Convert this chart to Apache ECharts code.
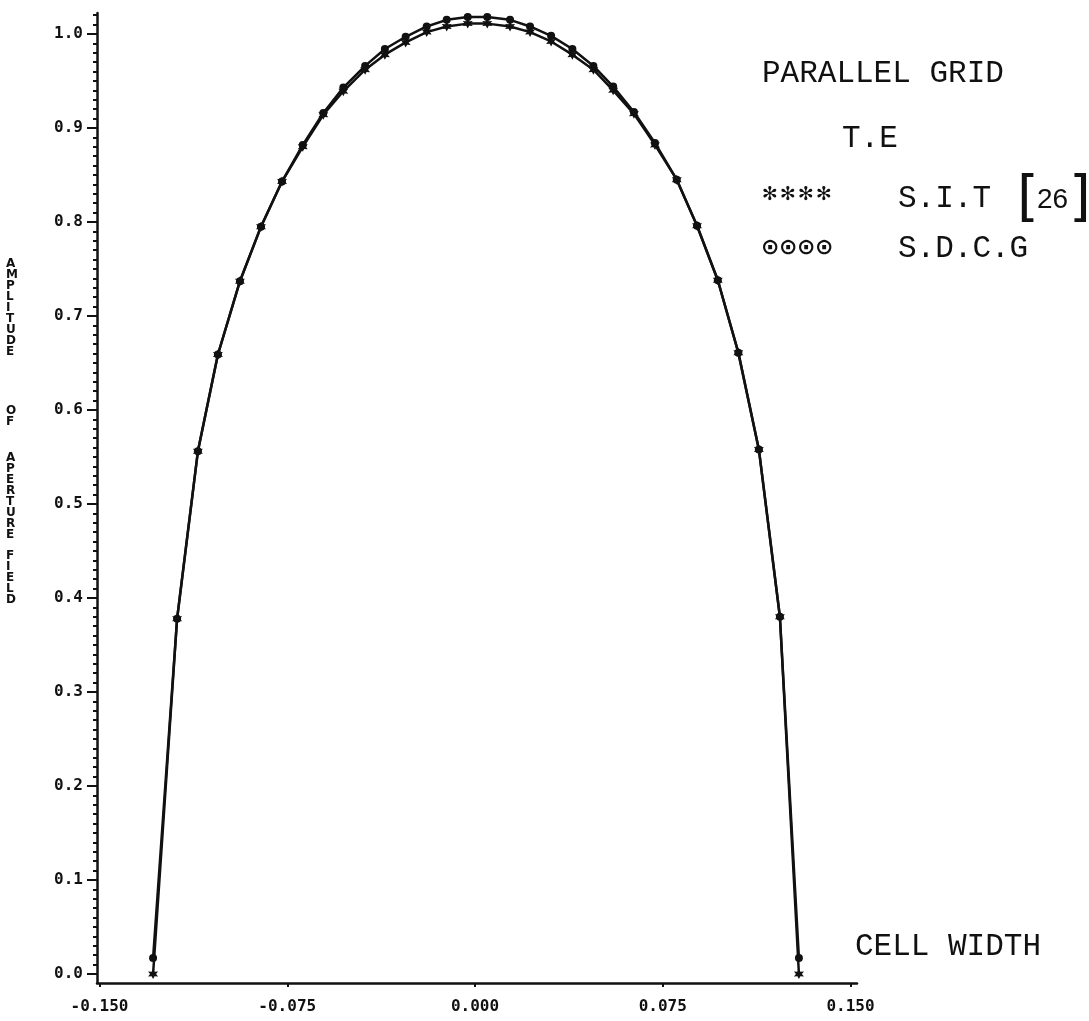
<!DOCTYPE html>
<html>
<head>
<meta charset="utf-8">
<script src="https://cdn.jsdelivr.net/npm/echarts@6/dist/echarts.min.js"></script>
<style>
  html, body { margin: 0; padding: 0; background: #fff; }
  #chart { width: 1089px; height: 1021px; }
</style>
</head>
<body>
<div id="chart"></div>
<script>
  // positions across the cell
  const cellX = [-0.1286, -0.1190, -0.1107, -0.1027, -0.0939, -0.0855, -0.0771, -0.0688,
    -0.0606, -0.0526, -0.0439, -0.0360, -0.0277, -0.0193, -0.0113, -0.0029,
    0.0049, 0.0140, 0.0220, 0.0304, 0.0389, 0.0473, 0.0552, 0.0635,
    0.0719, 0.0806, 0.0887, 0.0970, 0.1052, 0.1134, 0.1218, 0.1294];
  // S.I.T [26]  (****)
  const sitAmp = [0.000, 0.378, 0.556, 0.659, 0.737, 0.795, 0.843, 0.880,
    0.914, 0.939, 0.962, 0.978, 0.991, 1.002, 1.008, 1.011,
    1.011, 1.008, 1.002, 0.992, 0.978, 0.962, 0.940, 0.915,
    0.882, 0.845, 0.796, 0.738, 0.661, 0.558, 0.380, 0.000];
  // S.D.C.G  (oooo)
  const sdcgAmp = [0.017, 0.378, 0.556, 0.659, 0.737, 0.795, 0.843, 0.882,
    0.916, 0.943, 0.966, 0.984, 0.997, 1.008, 1.015, 1.018,
    1.018, 1.015, 1.008, 0.998, 0.984, 0.966, 0.944, 0.917,
    0.884, 0.845, 0.796, 0.738, 0.661, 0.558, 0.380, 0.017];

  const xTicks = [-0.15, -0.075, 0, 0.075, 0.15];
  const xTickLabels = ['-0.150', '-0.075', '0.000', '0.075', '0.150'];
  const yTicks = [0, 0.1, 0.2, 0.3, 0.4, 0.5, 0.6, 0.7, 0.8, 0.9, 1.0];
  const yTickLabels = ['0.0', '0.1', '0.2', '0.3', '0.4', '0.5', '0.6', '0.7', '0.8', '0.9', '1.0'];

  let yMinor = [];
  for (let i = 0; i <= 102; i++) yMinor.push(i / 100);

  const ink = '#111';
  const starPath = 'path://M0,-10 L2.6,-4.5 L8.7,-5 L5.2,0 L8.7,5 L2.6,4.5 L0,10 L-2.6,4.5 L-8.7,5 L-5.2,0 L-8.7,-5 L-2.6,-4.5 Z';
  const labelFont = { color: ink, fontFamily: 'DejaVu Sans Mono', fontWeight: 'bold', fontSize: 16 };
  const typeFont = '31px "Liberation Mono"';
  const titleFont = 'bold 12px "DejaVu Sans"';

  function vertical(word) { return word.split('').join('\n'); }

  let myChart = echarts.init(document.getElementById('chart'), null, { renderer: 'canvas' });

  let graphics = [
    { type: 'text', left: 762, top: 58, style: { text: 'PARALLEL GRID', font: typeFont, fill: ink } },
    { type: 'text', left: 842, top: 123, style: { text: 'T.E', font: typeFont, fill: ink } },
    { type: 'text', left: 898, top: 183, style: { text: 'S.I.T', font: typeFont, fill: ink } },
    { type: 'text', left: 1017, top: 172, style: { text: '[', font: '56px "DejaVu Sans"', fill: ink } },
    { type: 'text', left: 1037, top: 186, style: { text: '26', font: '28px "Liberation Sans"', fill: ink } },
    { type: 'text', left: 1069, top: 172, style: { text: ']', font: '56px "DejaVu Sans"', fill: ink } },
    { type: 'text', left: 898, top: 233, style: { text: 'S.D.C.G', font: typeFont, fill: ink } },
    { type: 'text', left: 855, top: 931, style: { text: 'CELL WIDTH', font: typeFont, fill: ink } },
    // stacked axis title
    { type: 'text', left: 6, top: 258, style: { text: vertical('AMPLITUDE'), font: titleFont, lineHeight: 11, fill: ink } },
    { type: 'text', left: 6, top: 405, style: { text: vertical('OF'), font: titleFont, lineHeight: 11, fill: ink } },
    { type: 'text', left: 6, top: 452, style: { text: vertical('APERTURE'), font: titleFont, lineHeight: 11, fill: ink } },
    { type: 'text', left: 6, top: 550, style: { text: vertical('FIELD'), font: titleFont, lineHeight: 11, fill: ink } }
  ];
  // legend glyph rows
  for (let i = 0; i < 4; i++) {
    graphics.push({ type: 'text', left: 762 + i * 18, top: 186, style: { text: '✻', font: 'bold 19px "DejaVu Sans"', fill: ink } });
    graphics.push({ type: 'text', left: 761 + i * 18, top: 237, style: { text: '⊙', font: 'bold 22px "DejaVu Sans"', fill: ink } });
  }

  myChart.setOption({
    backgroundColor: '#fff',
    animation: false,
    grid: { left: 97, top: 13, width: 760, height: 970 },
    xAxis: {
      type: 'value', min: -0.151, max: 0.1526,
      axisLine: { onZero: false, lineStyle: { color: ink, width: 2.5 } },
      axisTick: { customValues: xTicks, length: 4, lineStyle: { color: ink, width: 2 } },
      axisLabel: Object.assign({
        customValues: xTicks, margin: 16,
        formatter: function (v) { return xTickLabels[xTicks.indexOf(v)]; }
      }, labelFont),
      splitLine: { show: false }
    },
    yAxis: [
      {
        type: 'value', min: -0.0096, max: 1.0223,
        axisLine: { onZero: false, lineStyle: { color: ink, width: 2.5 } },
        axisTick: { customValues: yTicks, length: 10, lineStyle: { color: ink, width: 2 } },
        axisLabel: Object.assign({
          customValues: yTicks, margin: 14,
          formatter: function (v) { return yTickLabels[yTicks.indexOf(v)]; }
        }, labelFont),
        splitLine: { show: false }
      },
      {
        type: 'value', min: -0.0096, max: 1.0223, position: 'left',
        axisLine: { show: false, onZero: false },
        axisTick: { customValues: yMinor, length: 4, lineStyle: { color: ink, width: 2 } },
        axisLabel: { show: false },
        splitLine: { show: false }
      }
    ],
    graphic: graphics,
    series: [
      {
        name: 'S.I.T [26]', type: 'line',
        data: cellX.map((x, i) => [x, sitAmp[i]]),
        symbol: starPath, symbolSize: 10,
        itemStyle: { color: ink },
        lineStyle: { color: ink, width: 2.5 }
      },
      {
        name: 'S.D.C.G', type: 'line',
        data: cellX.map((x, i) => [x, sdcgAmp[i]]),
        symbol: 'circle', symbolSize: 8,
        itemStyle: { color: ink },
        lineStyle: { color: ink, width: 2.5 }
      }
    ]
  });
  window.addEventListener('resize', function () { myChart.resize(); });
</script>
</body>
</html>
